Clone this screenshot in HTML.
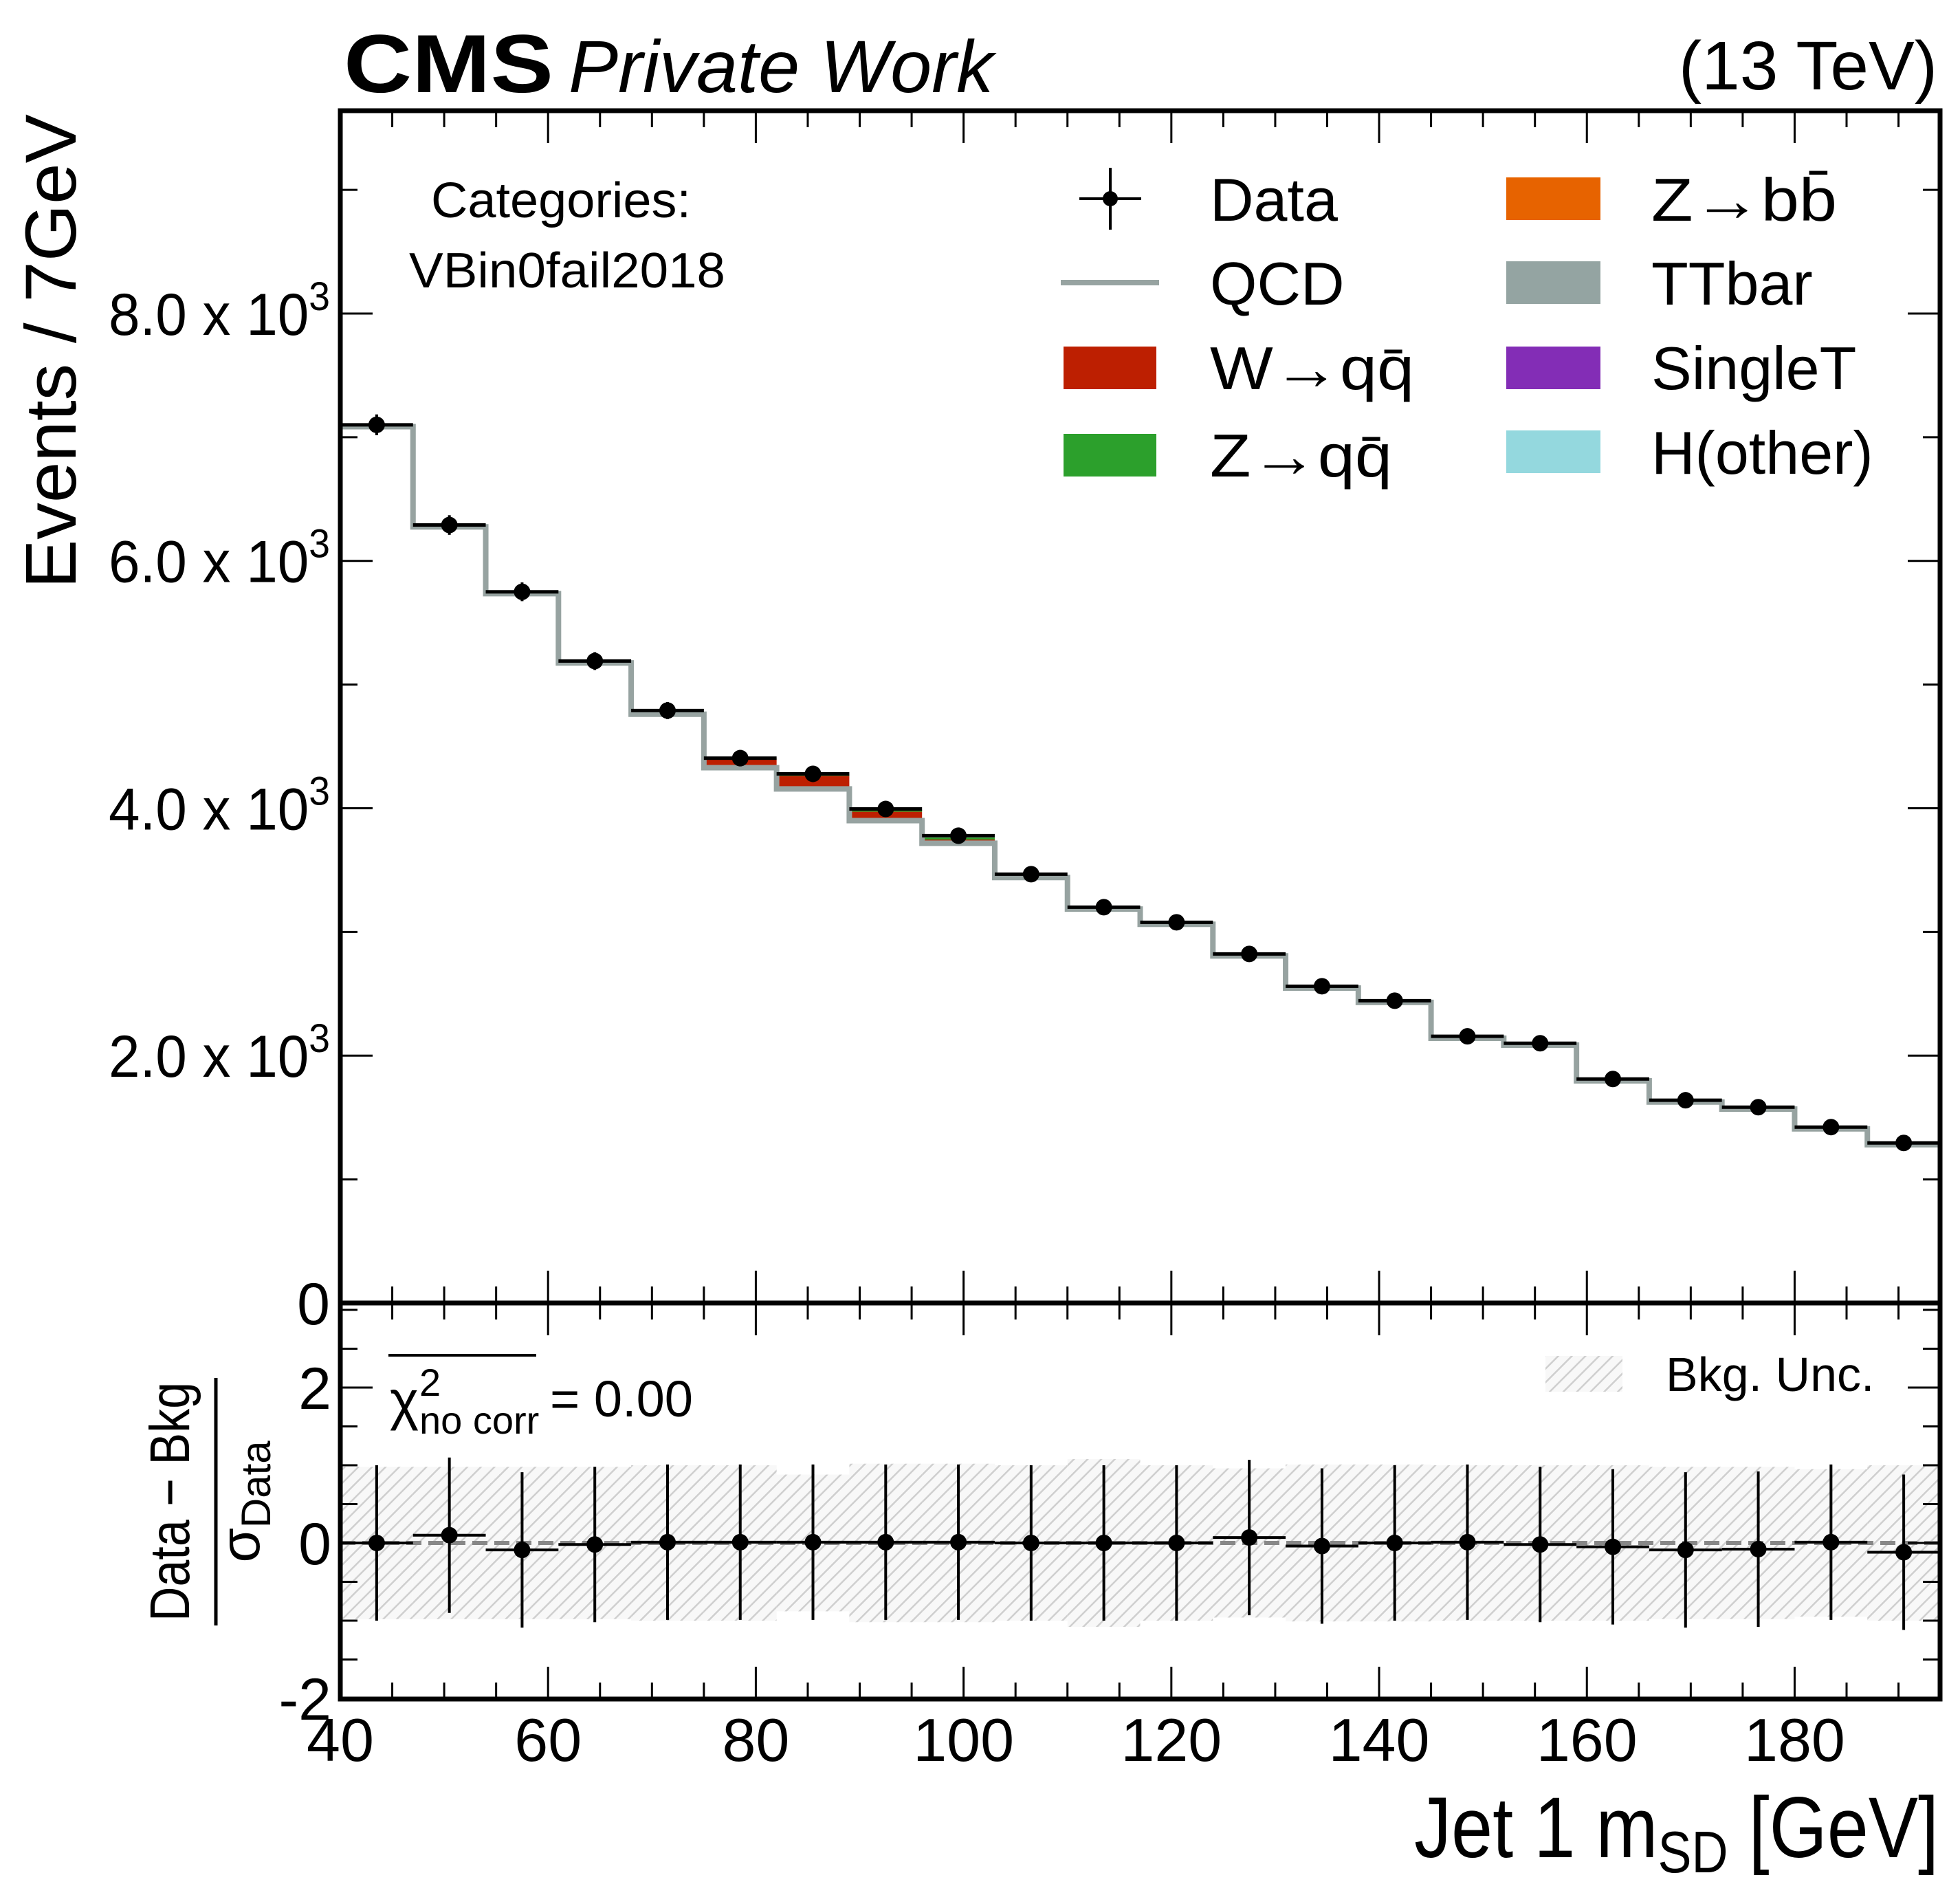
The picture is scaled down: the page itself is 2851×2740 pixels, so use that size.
<!DOCTYPE html>
<html><head><meta charset="utf-8"><style>html,body{margin:0;padding:0;background:#fff}svg{display:block}text{font-family:"Liberation Sans",sans-serif}</style></head>
<body>
<svg id="chart" width="2851" height="2740" viewBox="0 0 2851 2740" xmlns="http://www.w3.org/2000/svg">
<defs>
<pattern id="hatch" patternUnits="userSpaceOnUse" width="14" height="14" patternTransform="rotate(45)">
<rect width="14" height="14" fill="#f8f8f8"/>
<line x1="0" y1="0" x2="0" y2="14" stroke="#cfcfcf" stroke-width="5"/>
</pattern>
<clipPath id="clipMain"><rect x="495" y="161" width="2327" height="1734"/></clipPath>
<clipPath id="clipRatio"><rect x="495" y="1895" width="2327" height="576"/></clipPath>
</defs>
<g id="ratio-layer" clip-path="url(#clipRatio)"></g>
<g id="main-layer" clip-path="url(#clipMain)"></g>
<g id="ticks"></g>
<rect x="495" y="161" width="2327" height="1734" fill="none" stroke="#000" stroke-width="7"/>
<rect x="495" y="1895" width="2327" height="576" fill="none" stroke="#000" stroke-width="7"/>

<text x="500" y="134" font-size="120" font-weight="bold" textLength="305" lengthAdjust="spacingAndGlyphs">CMS</text>
<text x="827" y="134" font-size="108" font-style="italic">Private Work</text>
<text x="2818" y="130" font-size="100" text-anchor="end">(13 TeV)</text>

<text x="627" y="316" font-size="72" textLength="378" lengthAdjust="spacingAndGlyphs">Categories:</text>
<text x="595" y="418" font-size="72" textLength="460" lengthAdjust="spacingAndGlyphs">VBin0fail2018</text>

<text transform="translate(110,166) rotate(-90)" font-size="105" text-anchor="end" textLength="690" lengthAdjust="spacingAndGlyphs">Events / 7GeV</text>
<text x="2820" y="2701" font-size="125" text-anchor="end" textLength="763" lengthAdjust="spacingAndGlyphs">Jet 1 m<tspan font-size="85" dy="22">SD</tspan><tspan dy="-22"> [GeV]</tspan></text>

<g>
<text transform="translate(275,2184) rotate(-90)" font-size="82" text-anchor="middle" textLength="348" lengthAdjust="spacingAndGlyphs">Data − Bkg</text>
<line x1="314" y1="2004" x2="314" y2="2364" stroke="#000" stroke-width="5"/>
<text transform="translate(377,2184) rotate(-90)" font-size="82" text-anchor="middle">σ<tspan font-size="60" dy="16">Data</tspan></text>
</g>

<g>
<line x1="565" y1="1971" x2="780" y2="1971" stroke="#000" stroke-width="4"/>
<text x="567" y="2064" font-size="80">χ</text>
<text x="610" y="2030" font-size="56">2</text>
<text x="610" y="2085" font-size="56">no corr</text>
<text x="800" y="2060" font-size="74" textLength="208" lengthAdjust="spacingAndGlyphs">= 0.00</text>
</g>

<g>
<g><line x1="1570" y1="289" x2="1660" y2="289" stroke="#000" stroke-width="4"/><line x1="1615" y1="244" x2="1615" y2="334" stroke="#000" stroke-width="4"/><circle cx="1615" cy="289" r="11"/><text x="1760" y="321" font-size="88">Data</text></g>
<g><line x1="1543" y1="411" x2="1686" y2="411" stroke="#97a3a1" stroke-width="8"/><text x="1760" y="443" font-size="88">QCD</text></g>
<g><rect x="1547" y="504" width="135" height="62" fill="#bd1f01"/><text x="1760" y="566" font-size="88" textLength="297" lengthAdjust="spacingAndGlyphs">W→qq̄</text></g>
<g><rect x="1547" y="631" width="135" height="62" fill="#2ca02c"/><text x="1760" y="693" font-size="88" textLength="265" lengthAdjust="spacingAndGlyphs">Z→qq̄</text></g>
<g><rect x="2191" y="258" width="137" height="62" fill="#e76300"/><text x="2402" y="321" font-size="88" textLength="270" lengthAdjust="spacingAndGlyphs">Z→bb̄</text></g>
<g><rect x="2191" y="380" width="137" height="62" fill="#94a4a2"/><text x="2402" y="443" font-size="88">TTbar</text></g>
<g><rect x="2191" y="504" width="137" height="62" fill="#832db6"/><text x="2402" y="566" font-size="88">SingleT</text></g>
<g><rect x="2191" y="626" width="137" height="62" fill="#94d8de"/><text x="2402" y="689" font-size="88">H(other)</text></g>
</g>
<g>
<rect x="2248" y="1972" width="112" height="52" fill="url(#hatch)"/>
<text x="2423" y="2023" font-size="70">Bkg. Unc.</text>
</g>
<g id="labels"></g>
</svg>
<script>
const binLow = [40,47,54,61,68,75,82,89,96,103,110,117,124,131,138,145,152,159,166,173,180,187];
const binWidth = 7;
const dataVals = [7100,6290,5750,5190,4790,4405,4278,3994,3778,3467,3200,3078,2822,2561,2444,2156,2100,1811,1639,1583,1422,1294];
const qcdVals  = [7085,6275,5735,5175,4760,4328,4156,3900,3717,3440,3185,3062,2806,2546,2430,2140,2085,1796,1625,1568,1408,1280];
const wqqVals  = [0,0,0,0,20,72,105,72,30,8,0,0,0,0,0,0,0,0,0,0,0,0];
const zqqVals  = [0,0,0,0,5,5,12,16,16,4,0,0,0,0,0,0,0,0,0,0,0,0];
const pullVals = [0,0.1,-0.09,-0.02,0.01,0.01,0.01,0.01,0.01,0,0,0,0.07,-0.04,0,0.01,-0.02,-0.05,-0.09,-0.08,0.01,-0.12];
const uncVals  = [0.98,0.98,0.98,0.98,1.0,1.0,0.88,1.02,1.02,1.0,1.08,1.0,0.96,1.01,1.01,1.0,1.0,1.0,0.98,0.98,0.95,1.0];
const yTickVals = [0,2000,4000,6000,8000];
const yTickLabels = ["0","2.0","4.0","6.0","8.0"];
const rTickVals = [-2,0,2];
const xTickVals = [40,60,80,100,120,140,160,180];

const NS = "http://www.w3.org/2000/svg";
const X0=495, X1=2822, XMIN=40, XMAX=194;
const sx = v => X0 + (v-XMIN)*(X1-X0)/(XMAX-XMIN);
const sy = v => 1895 - v*0.17988;
const sr = v => 2244 - v*113;
function mk(tag, attrs, parent){const e=document.createElementNS(NS,tag);for(const k in attrs)e.setAttribute(k,attrs[k]);parent.appendChild(e);return e;}
const main=document.getElementById('main-layer'), ratio=document.getElementById('ratio-layer'), ticks=document.getElementById('ticks'), labels=document.getElementById('labels');

binLow.forEach((lo,i)=>{
  const xa=sx(lo), xb=sx(lo+binWidth);
  const b0=qcdVals[i], b1=b0+wqqVals[i], b2=b1+zqqVals[i];
  if(wqqVals[i]>0){const r=mk('rect',{x:xa,y:sy(b1),width:xb-xa,height:sy(b0)-sy(b1),fill:'#bd1f01'},main);
    
    }
  if(zqqVals[i]>0){const r=mk('rect',{x:xa,y:sy(b2),width:xb-xa,height:sy(b1)-sy(b2),fill:'#2ca02c'},main);
    
    }
});
let d='';
binLow.forEach((lo,i)=>{const y=sy(qcdVals[i]);d+=(i===0?'M':'L')+sx(lo)+','+y+' L'+sx(lo+binWidth)+','+y+' ';});
const qp=mk('path',{d:d,fill:'none',stroke:'#97a3a1','stroke-width':8},main);


binLow.forEach((lo,i)=>{
  const cx=sx(lo+binWidth/2), y=sy(dataVals[i]), e=Math.sqrt(dataVals[i])*0.17988;
  const g=mk('g',{},main);
  
  
  mk('line',{x1:sx(lo),y1:y,x2:sx(lo+binWidth),y2:y,stroke:'#000','stroke-width':5},g);
  mk('line',{x1:cx,y1:y-e,x2:cx,y2:y+e,stroke:'#000','stroke-width':4},g);
  mk('circle',{cx:cx,cy:y,r:12,fill:'#000'},g);
});
binLow.forEach((lo,i)=>{
  const r=mk('rect',{x:sx(lo),y:sr(uncVals[i]),width:sx(lo+binWidth)-sx(lo),height:sr(-uncVals[i])-sr(uncVals[i]),fill:'url(#hatch)'},ratio);
  
  
});
const zl=mk('line',{x1:X0,y1:sr(0),x2:X1,y2:sr(0),stroke:'#888','stroke-width':6,'stroke-dasharray':'22 10'},ratio);


binLow.forEach((lo,i)=>{
  const cx=sx(lo+binWidth/2), y=sr(pullVals[i]);
  const g=mk('g',{},ratio);
  
  
  mk('line',{x1:sx(lo),y1:y,x2:sx(lo+binWidth),y2:y,stroke:'#000','stroke-width':4},g);
  mk('line',{x1:cx,y1:sr(pullVals[i]+1),x2:cx,y2:sr(pullVals[i]-1),stroke:'#000','stroke-width':4},g);
  mk('circle',{cx:cx,cy:y,r:12,fill:'#000'},g);
});
function tk(x1,y1,x2,y2,w){const l=mk('line',{x1:x1,y1:y1,x2:x2,y2:y2,stroke:'#000','stroke-width':w},ticks);
  
  }
for(let v=40; v<=194; v+=5){
  const x=sx(v), maj=(v%20===0), L=maj?47:24;
  tk(x,161,x,161+L,3); tk(x,1895,x,1895-L,3); tk(x,1895,x,1895+L,3); tk(x,2471,x,2471-L,3);
}
for(let v=0; v<=9000; v+=1000){
  const y=sy(v), maj=(v%2000===0), L=maj?47:25;
  tk(X0,y,X0+L,y,3); tk(X1,y,X1-L,y,3);
}
for(let v=-2; v<=3; v+=0.5){
  const y=sr(v), maj=(v%2===0), L=maj?47:25;
  tk(X0,y,X0+L,y,3); tk(X1,y,X1-L,y,3);
}
yTickVals.forEach((v,i)=>{
  const t=mk('text',{x:480,y:sy(v)+31,'font-size':86,'text-anchor':'end'},labels);
  
  
  if(v===0){t.textContent='0';}
  else{t.setAttribute('textLength','322');t.setAttribute('lengthAdjust','spacingAndGlyphs');
    t.textContent=yTickLabels[i]+' x 10';const s=document.createElementNS(NS,'tspan');s.setAttribute('font-size','58');s.setAttribute('dy','-36');s.textContent='3';t.appendChild(s);}
});
rTickVals.forEach(v=>{
  const t=mk('text',{x:482,y:sr(v)+31,'font-size':86,'text-anchor':'end'},labels);
  
  
  t.textContent=String(v);
});
xTickVals.forEach(v=>{
  const t=mk('text',{x:sx(v),y:2561,'font-size':88,'text-anchor':'middle'},labels);
  
  
  t.textContent=String(v);
});
</script>
</body></html>
